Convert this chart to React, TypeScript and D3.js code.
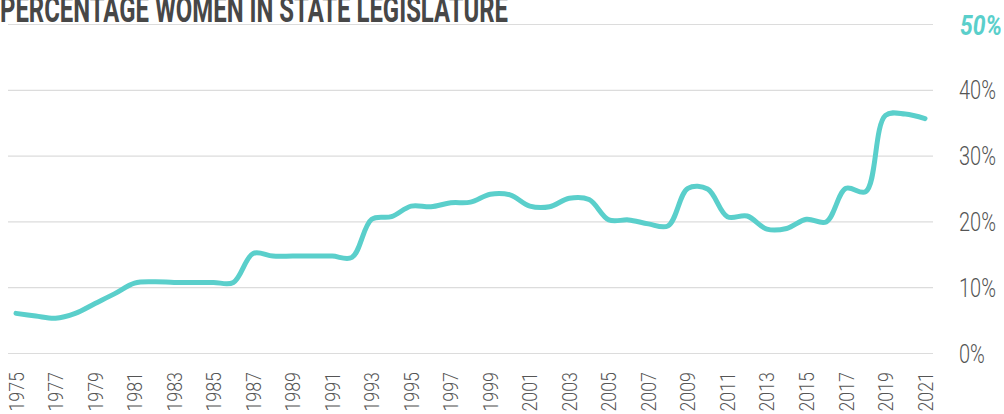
import React from "react";
import * as d3 from "d3";

// share of women in the state legislature, one value per year
const years = [
  1975, 1976, 1977, 1978, 1979, 1980, 1981, 1982, 1983, 1984, 1985, 1986,
  1987, 1988, 1989, 1990, 1991, 1992, 1993, 1994, 1995, 1996, 1997, 1998,
  1999, 2000, 2001, 2002, 2003, 2004, 2005, 2006, 2007, 2008, 2009, 2010,
  2011, 2012, 2013, 2014, 2015, 2016, 2017, 2018, 2019, 2020, 2021,
];
const womenPct = [
  6.1, 5.7, 5.35, 6.1, 7.6, 9.1, 10.7, 10.9, 10.8, 10.8, 10.8, 10.8,
  15.2, 14.8, 14.8, 14.8, 14.8, 14.6, 20.4, 20.8, 22.4, 22.3, 22.9, 23.0,
  24.2, 24.1, 22.4, 22.3, 23.6, 23.4, 20.3, 20.3, 19.7, 19.4, 25.1, 25.0,
  20.8, 20.9, 18.9, 19.0, 20.4, 20.0, 25.1, 24.6, 36.2, 36.4, 35.7,
];
const yearLabels = [
  1975, 1977, 1979, 1981, 1983, 1985, 1987, 1989, 1991, 1993, 1995, 1997,
  1999, 2001, 2003, 2005, 2007, 2009, 2011, 2013, 2015, 2017, 2019, 2021,
];
const pctTicks = [0, 10, 20, 30, 40, 50];

const title = "PERCENTAGE WOMEN IN STATE LEGISLATURE";
const teal = "#5acfcb";

const width = 1004;
const height = 414;

const App: React.FC = () => {
  const x = d3.scaleLinear().domain([1975, 2021]).range([16, 925]);
  const y = d3.scaleLinear().domain([0, 50]).range([353.5, 24.5]);

  const line = d3
    .line<number>()
    .x((d, i) => x(years[i]))
    .y((d) => y(d))
    .curve(d3.curveCatmullRom);

  return (
    <svg
      width={width}
      height={height}
      style={{ position: "absolute", left: 0, top: 0, background: "#fff" }}
    >
      {/* gridlines */}
      {pctTicks.map((t) => (
        <line
          key={t}
          x1={8}
          x2={933}
          y1={y(t)}
          y2={y(t)}
          stroke="#dcdcdc"
          strokeWidth={1.2}
        />
      ))}

      {/* title, cut at the top like the original */}
      <text
        x={0}
        y={22}
        fontFamily="Roboto, sans-serif"
        fontWeight="bold"
        fontSize={36}
        fill="#474747"
        textLength={508}
        lengthAdjust="spacingAndGlyphs"
      >
        {title}
      </text>

      {/* right axis labels */}
      {pctTicks.map((t) =>
        t === 50 ? (
          <text
            key={t}
            x={960}
            y={y(t)}
            dy="0.36em"
            fontFamily="Roboto, sans-serif"
            fontWeight="bold"
            fontStyle="italic"
            fontSize={28}
            fill={teal}
            textLength={42}
            lengthAdjust="spacingAndGlyphs"
          >
            {t}%
          </text>
        ) : (
          <text
            key={t}
            transform={`translate(959,${y(t)}) scale(0.8,1)`}
            dy="0.36em"
            fontFamily="Roboto, sans-serif"
            fontWeight={300}
            fontSize={25}
            fill="#555"
          >
            {t}%
          </text>
        )
      )}

      {/* year labels */}
      {yearLabels.map((yr) => (
        <text
          key={yr}
          transform={`translate(${x(yr)},372) rotate(-90) scale(0.85,1)`}
          dy="0.36em"
          textAnchor="end"
          fontFamily="Roboto, sans-serif"
          fontWeight={300}
          fontSize={21}
          fill="#555"
        >
          {yr}
        </text>
      ))}

      {/* the series */}
      <path
        d={line(womenPct) || ""}
        fill="none"
        stroke={teal}
        strokeWidth={5}
        strokeLinecap="round"
        strokeLinejoin="round"
      />
    </svg>
  );
};

export default App;
